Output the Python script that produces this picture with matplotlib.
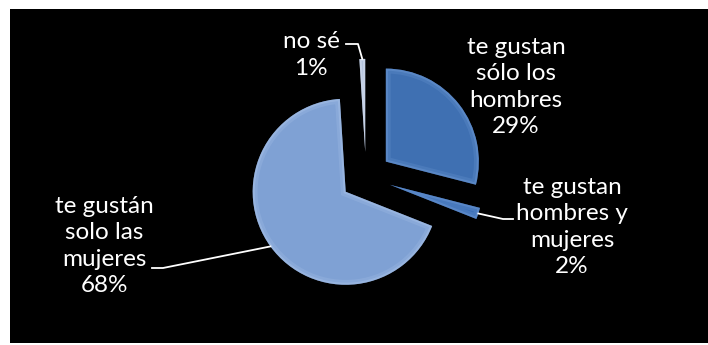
import matplotlib
matplotlib.use("Agg")
import numpy as np
import matplotlib.pyplot as plt
from matplotlib.patches import Rectangle, Wedge

# Survey answers, in drawing order (clockwise from 12 o'clock)
labels = ["te gustan\nsólo los\nhombres", "te gustan\nhombres y\nmujeres",
          "te gustán\nsolo las\nmujeres", "no sé"]
values = [29, 2, 68, 1]
colors = ["#3f70b2", "#3c6fb6", "#7fa1d4", "#a7b8d6"]
highlights = ["#6d98d4", "#6d98d4", "#a9c2e8", "#dde6f4"]

# label text positions (pixels) and leader elbows
label_pos = [(516, 258), (572, 118), (104, 99), (311, 290)]
leaders = [None, [(513, 126), (503, 126)], [(152, 77), (163, 77)], [(346, 301), (358, 301)]]

W, H = 708, 345
fig = plt.figure(figsize=(W / 100, H / 100), dpi=100)
fig.patch.set_facecolor("white")
ax = fig.add_axes([0, 0, 1, 1])

ax.add_patch(Rectangle((10, 2), W - 10, 334, facecolor="black", edgecolor="none", zorder=0))

radius = 93
center = (366, 168)
# pie explode is an absolute offset when a radius is given
wedges, _ = ax.pie(values, radius=radius, center=center, startangle=90,
                   counterclock=False, explode=[0.27 * radius] * len(values),
                   colors=colors, wedgeprops=dict(linewidth=0), frame=True)
ax.set_xlim(0, W)
ax.set_ylim(0, H)
ax.set_aspect("equal")
ax.axis("off")

# soft bevel: light rim clipped inside each slice
for w, hc in zip(wedges, highlights):
    w.set_zorder(2)
    for lw, a in [(7, 0.25), (3, 0.45)]:
        rim = Wedge(w.center, w.r, w.theta1, w.theta2, fill=False, edgecolor=hc,
                    linewidth=lw, alpha=a, zorder=3)
        ax.add_patch(rim)
        rim.set_clip_path(w)

font = ["Lato", "DejaVu Sans"]
for i, (w, lab, v) in enumerate(zip(wedges, labels, values)):
    x, y = label_pos[i]
    ax.text(x, y, f"{lab}\n{v}%", ha="center", va="center", color="white",
            fontsize=17.5, linespacing=1.3, family=font, zorder=5)
    if leaders[i] is None:
        continue
    mid = np.deg2rad((w.theta1 + w.theta2) / 2)
    ax_pt = (w.center[0] + w.r * np.cos(mid), w.center[1] + w.r * np.sin(mid))
    pts = leaders[i] + [ax_pt]
    ax.plot([p[0] for p in pts], [p[1] for p in pts], color="white", lw=1.3, zorder=4)

fig.savefig("out.png", dpi=100, facecolor=fig.get_facecolor())
